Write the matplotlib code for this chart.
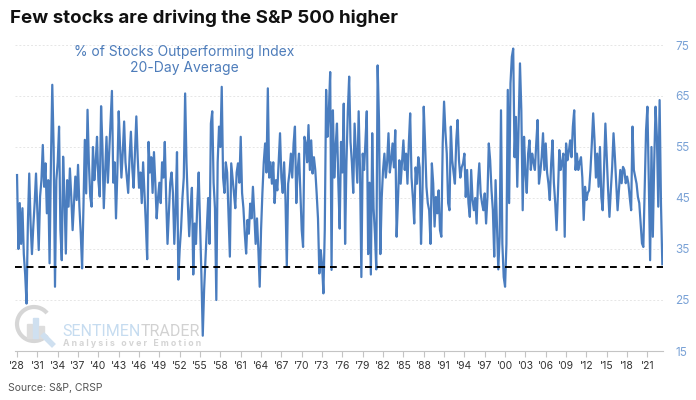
import numpy as np
import matplotlib
matplotlib.use("Agg")
import matplotlib.pyplot as plt
from matplotlib.patches import Arc, Rectangle

plt.rcParams['font.family'] = ['Inter', 'DejaVu Sans']

# % of stocks outperforming the index, 20-day average
# one reading every 0.2 years, starting at the start of 1928
start_year = 1928.0
step = 0.2

pct_1928_1939 = [
    49.5, 35, 44, 36, 43,
    34, 30, 24.3, 40, 49.8,
    40, 34, 39.4, 44, 49.8,
    42, 34.8, 45.3, 48.5, 55.4,
    47.2, 51.8, 42, 48.5, 32.2,
    51.8, 67.2, 55, 27.6, 48.5,
    52, 59, 38.7, 32.8, 53.1,
    45.3, 34.1, 48.5, 43.3, 50.8,
    45.3, 38.7, 44, 49.2, 44.6,
    51.5, 43.3, 38, 31.2, 43.3,
    56.4, 45.9, 62.3, 51.8, 45.3,
    43.3, 55, 48.5, 52, 57,
]
pct_1940_1951 = [
    48.5, 45.3, 63, 55, 43,
    50, 57, 48, 54, 60,
    66, 48, 52, 41, 50,
    62, 55, 49, 54, 60,
    52, 49, 46, 53, 58,
    51, 47, 54, 61, 53,
    47, 50, 44, 52, 46,
    40, 33, 56, 50, 53,
    46, 54, 48, 41, 45,
    48, 44, 52, 49, 56,
    45, 36, 42, 48, 50,
    46, 36, 43, 54, 29,
]
pct_1952_1975 = [
    35, 39, 45, 49, 65.5,
    52, 44, 37.5, 43, 47,
    30, 40, 36, 44, 50,
    40, 30, 18, 27, 33,
    39, 45, 36, 59.6, 62,
    48, 43, 25, 52, 59,
    55, 66.8, 49, 46, 52,
    50, 42, 33.5, 51.8, 49,
    46, 43, 50, 51.8, 48,
    57, 46, 43, 38, 34.1,
    40.7, 38, 43.9, 41, 47.2,
    42, 36, 41, 35, 27.6,
    38.7, 46, 52, 55.7, 50,
    66.5, 49, 52, 47.8, 52,
    44, 48.5, 46.5, 52, 57.7,
    49, 46, 52, 45, 31.5,
    47.8, 50, 53.7, 49, 55.7,
    59, 44, 50.5, 53.7, 46,
    38.7, 35.4, 57, 55.7, 52,
    59.3, 50.5, 56.3, 49.8, 53,
    50.5, 46, 41, 30.2, 34.8,
    32, 26.3, 38.7, 66.2, 57,
    62, 69.7, 30.9, 62.2, 49,
    55, 59.6, 48, 39, 56,
]
pct_1976_1999 = [
    50, 63.5, 36, 52, 62,
    68.8, 56, 52, 46, 59.6,
    53.7, 48, 62, 50.5, 29.5,
    53.7, 50.5, 56, 62, 34,
    48, 30, 57.7, 43, 38,
    31, 71, 60.3, 34, 45,
    50.5, 53.7, 49, 52, 57.7,
    50, 52.4, 55.7, 51, 58.3,
    37.4, 44.6, 52.4, 47.8, 52,
    56.3, 50.5, 53.7, 47.8, 55.7,
    61.6, 49, 45, 40, 51,
    47.8, 53, 51, 36, 45,
    62.9, 55.7, 47.2, 44, 42.6,
    36, 51.8, 47.8, 39.4, 45.2,
    42, 46.5, 38.7, 37.4, 55.7,
    63.9, 58, 53.7, 44, 42.6,
    59, 52.4, 50, 47.8, 56.3,
    60.3, 52.4, 49, 51, 51.8,
    53.7, 45.2, 50.5, 44, 41.3,
    50.5, 44.6, 42.6, 45, 40,
    47.8, 51.8, 45.9, 44, 42.6,
    45.9, 40, 45.2, 55.7, 52.4,
    46.5, 42.6, 33.5, 48.5, 40,
    31, 37.4, 62.2, 36, 29.5,
]
pct_2000_2023 = [
    27.6, 36, 66.2, 44, 67.5,
    72.7, 74.3, 53, 60.9, 47.2,
    59, 71.4, 62.2, 42.6, 57,
    50, 46, 53.7, 56.3, 50.5,
    53.7, 52, 50.5, 55.7, 60.3,
    47.8, 50, 53, 57.7, 50.5,
    55.7, 50, 47.8, 44.6, 51.8,
    56.3, 48, 44, 38.7, 45.9,
    54.4, 50.5, 52, 53.7, 37.4,
    55.7, 52.4, 54, 56.3, 53,
    59, 62.2, 50.5, 53.7, 50.5,
    52, 53, 49, 40.7, 47.2,
    44.6, 46, 46.5, 50.5, 55.7,
    61.6, 56.3, 49, 53.7, 47.2,
    55, 45.2, 42.6, 50.5, 59.6,
    53.1, 46.6, 41.3, 46.5, 51.1,
    57.7, 53.1, 47.8, 42.6, 46.6,
    50.5, 47.9, 51.1, 50.5, 47.9,
    49.2, 47.8, 45, 42.6, 59,
    50.5, 49.2, 47.8, 45.2, 44,
    40, 36.1, 35.4, 46.6, 58.3,
    62.9, 48.5, 32.8, 55, 37.4,
    51.8, 62.9, 57, 43.3, 64.2,
    44, 32,
]

values = np.array(pct_1928_1939 + pct_1940_1951 + pct_1952_1975
                  + pct_1976_1999 + pct_2000_2023)
years = start_year + step * np.arange(len(values))

threshold = 31.5
y_ticks = [15, 25, 35, 45, 55, 65, 75]
tick_years = list(range(1928, 2022, 3))
tick_labels = ["'%02d" % (y % 100) for y in tick_years]

title = "Few stocks are driving the S&P 500 higher"
subtitle = "% of Stocks Outperforming Index\n20-Day Average"
source = "Source: S&P, CRSP"

line_blue = '#4a7dbf'
label_blue = '#7aa2d6'

W, H = 696, 400
fig = plt.figure(figsize=(W / 100, H / 100), dpi=100)
ax = fig.add_axes([15 / W, 1 - 351 / H, (663 - 15) / W, (351 - 45) / H])

ax.plot(years, values, color=line_blue, lw=1.6, zorder=3)
ax.axhline(threshold, color='black', ls=(0, (3.5, 2.5)), lw=1.4, zorder=4)

ax.set_xlim(1927.7, 2023.3)
ax.set_ylim(15, 75)

ax.yaxis.tick_right()
ax.set_yticks(y_ticks)
ax.tick_params(axis='y', length=0, pad=9, labelsize=8.5, labelcolor=label_blue)
ax.grid(axis='y', color='#e6e6e6', lw=0.7, ls=(0, (2, 2)), zorder=0)

ax.set_xticks(tick_years)
ax.set_xticklabels(tick_labels)
ax.tick_params(axis='x', length=4, width=0.8, color='#c4c4c4', pad=3,
               labelsize=7.5, labelcolor='#333333')

for side in ['top', 'left', 'right']:
    ax.spines[side].set_visible(False)
ax.spines['bottom'].set_color('#c4c4c4')
ax.spines['bottom'].set_linewidth(0.8)

fig.text(10 / W, 1 - 18 / H, title, fontsize=13.5, fontweight='bold',
         ha='left', va='center', color='#111111')
fig.text(184 / W, 1 - 60 / H, subtitle, fontsize=10, color='#4d7cba',
         ha='center', va='center', linespacing=1.1)
fig.text(8 / W, 1 - 388 / H, source, fontsize=7.5, color='#555555',
         ha='left', va='center')

# watermark
renderer = fig.canvas.get_renderer()
t1 = fig.text(62 / W, 1 - 331 / H, "SENTIMEN", fontsize=11.5, color='#c6dcf0',
              ha='left', va='center', family=['Roboto', 'DejaVu Sans'])
x_end = t1.get_window_extent(renderer).x1
fig.text(x_end / W, 1 - 331 / H, "TRADER", fontsize=11.5, color='#d2d2d2',
         ha='left', va='center', family=['Roboto', 'DejaVu Sans'])
fig.text(63 / W, 1 - 343 / H, "A n a l y s i s   o v e r   E m o t i o n",
         fontsize=6.3, color='#d4d4d4', ha='left', va='center',
         fontweight='bold')
ax_logo = fig.add_axes([14 / W, 1 - 348 / H, 42 / W, 46 / H])
ax_logo.set_xlim(0, 42)
ax_logo.set_ylim(0, 46)
ax_logo.axis('off')
ax_logo.add_patch(Arc((20, 24), 34, 34, theta1=40, theta2=320, color='#d6d6d6', lw=3))
for bx, bh, bc in [(13, 14, '#dddddd'), (19, 20, '#cfe0f0'), (25, 12, '#dddddd')]:
    ax_logo.add_patch(Rectangle((bx, 10), 5, bh, color=bc))
ax_logo.plot([30, 38], [12, 4], color='#cfe0f0', lw=4)

fig.savefig('out.png', dpi=100)
